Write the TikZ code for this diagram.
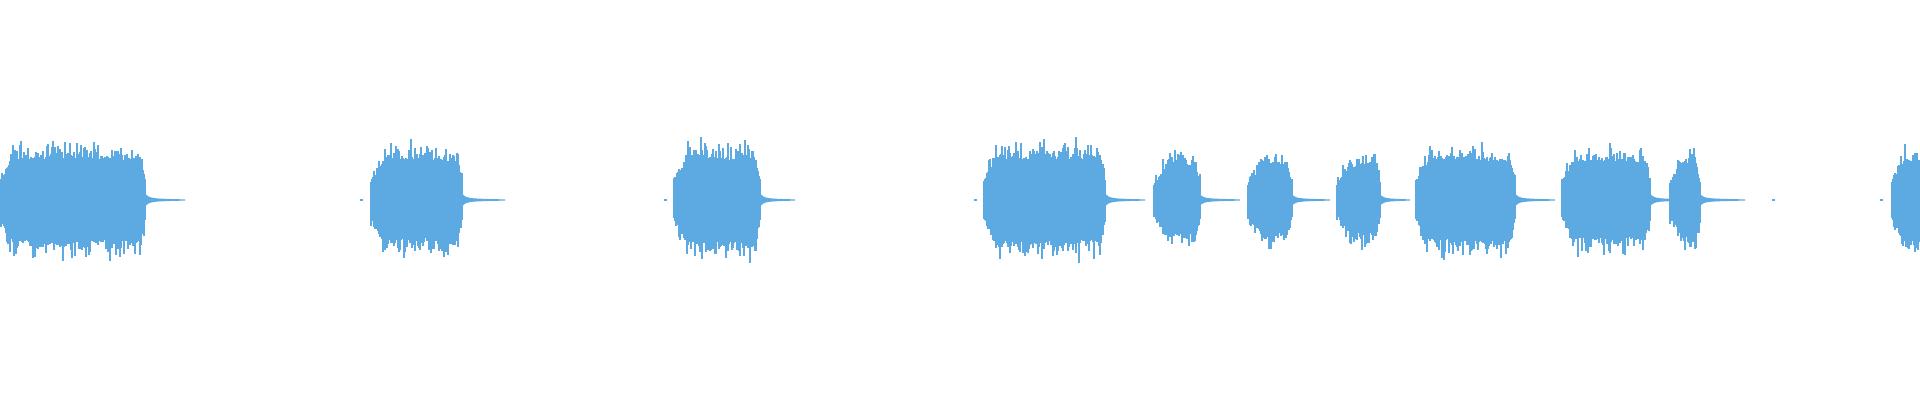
\documentclass[tikz,border=0pt]{standalone}
\definecolor{wavecol}{RGB}{93,170,226}
\tikzstyle{wave}=[draw=wavecol,line width=0.35pt]
\tikzstyle{tail}=[fill=wavecol,draw=none]
% one burst: start, stop, amplitude, tail end
\newcommand\burst[4]{%
  \foreach \x in {#1,...,#2}{
    \pgfmathsetmacro\env{min(1,(\x-#1)/14*0.55+0.45)*min(1,(#2-\x)/5*0.5+0.5)}
    \pgfmathsetmacro\h{#3*\env*(0.62+0.38*rnd*rnd)}
    \pgfmathsetmacro\d{#3*\env*(0.62+0.38*rnd*rnd)}
    \draw[wave] (\x,200+\h) -- (\x,200-\d);
  }
  \fill[tail] (#2,200+0.1*#3) .. controls (#2+5,201.5) .. (#4,200.6)
    -- (#4,199.4) .. controls (#2+5,198.5) .. (#2,200-0.1*#3) -- cycle;
}
\begin{document}
\begin{tikzpicture}[x=0.01cm,y=0.01cm]
  \useasboundingbox (0,0) rectangle (1920,400);
  \clip (0,0) rectangle (1920,400);
  \pgfmathsetseed{7}
  \burst{0}{145}{64}{185}
  \burst{371}{462}{62}{505}
  \burst{674}{760}{64}{795}
  \burst{984}{1105}{64}{1145}
  \burst{1154}{1200}{53}{1240}
  \burst{1248}{1292}{52}{1330}
  \burst{1337}{1380}{53}{1410}
  \burst{1416}{1515}{62}{1555}
  \burst{1562}{1650}{60}{1690}
  \burst{1670}{1700}{58}{1745}
  \burst{1892}{1925}{62}{1930}
  % stray samples
  \foreach \x in {361,665,975,1773,1881}{
    \fill[tail] (\x-1.5,199) rectangle (\x+1.5,201);
  }
\end{tikzpicture}
\end{document}
